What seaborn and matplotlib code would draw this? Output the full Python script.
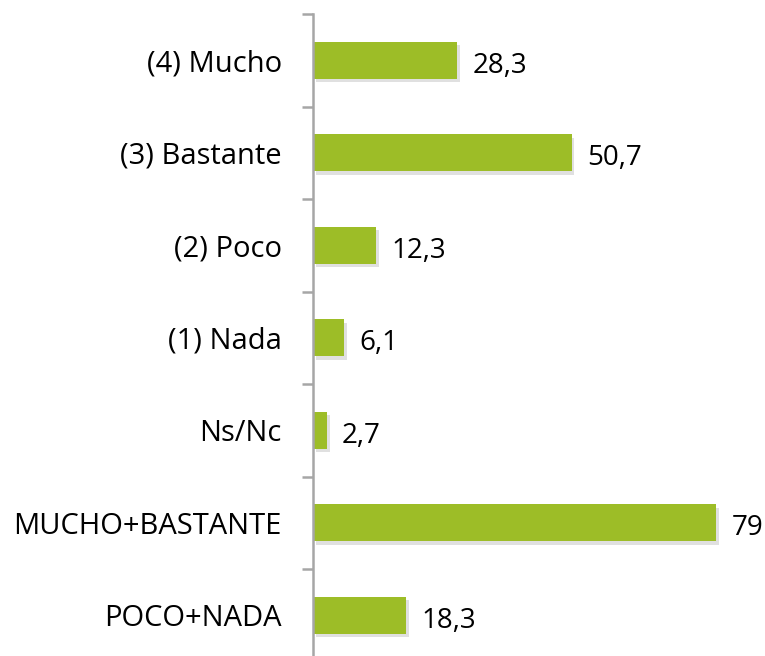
import matplotlib
matplotlib.use("Agg")
import matplotlib.pyplot as plt
import matplotlib.patheffects as pe
import seaborn as sns
import pandas as pd

# ── Data ──────────────────────────────────────────────────────────────────
categories = ["(4) Mucho", "(3) Bastante", "(2) Poco", "(1) Nada",
              "Ns/Nc", "MUCHO+BASTANTE", "POCO+NADA"]
values = [28.3, 50.7, 12.3, 6.1, 2.7, 79, 18.3]
value_labels = ["28,3", "50,7", "12,3", "6,1", "2,7", "79", "18,3"]

sns.set_theme(style="white")
plt.rcParams["font.family"] = ["Open Sans", "DejaVu Sans"]

BAR_COLOR = "#9DBD27"
AXIS_COLOR = "#A6A6A6"

df = pd.DataFrame({"cat": categories, "val": values})

fig = plt.figure(figsize=(7.65, 6.56), dpi=100)
# axes placed so the category axis starts at x=313px, top boundary at y=14px
ax = fig.add_axes([313 / 765, (656 - 661.5) / 656, (765 - 313) / 765, 647.5 / 656])

sns.barplot(data=df, x="val", y="cat", order=categories, color=BAR_COLOR,
            saturation=1, width=0.4, ax=ax, orient="h", linewidth=0)

# soft drop shadow like the office chart
for patch in ax.patches:
    patch.set_path_effects([pe.SimplePatchShadow(offset=(2, -2.5), alpha=0.18,
                                                 shadow_rgbFace="#555555"),
                            pe.Normal()])

for i, (v, lab) in enumerate(zip(values, value_labels)):
    ax.annotate(lab, xy=(v, i), xytext=(11, -4), textcoords="offset points",
                ha="left", va="center", fontsize=20, color="black")

ax.set_xlim(0, 88.6)
ax.set_ylim(6.5, -0.5)
ax.set_xlabel("")
ax.set_ylabel("")
ax.set_xticks([])

# category labels without tick marks, boundary ticks as minor ticks
ax.tick_params(axis="y", which="major", length=0, pad=22.5, labelsize=21,
               labelcolor="black")
ax.set_yticks(range(len(categories)), categories)
ax.set_yticks([i - 0.5 for i in range(len(categories) + 1)], minor=True)
ax.tick_params(axis="y", which="minor", length=8, width=1.8, color=AXIS_COLOR,
               left=True)

for side in ["top", "right", "bottom"]:
    ax.spines[side].set_visible(False)
ax.spines["left"].set_color(AXIS_COLOR)
ax.spines["left"].set_linewidth(1.8)

fig.savefig("out.png", dpi=100)
plt.close(fig)
